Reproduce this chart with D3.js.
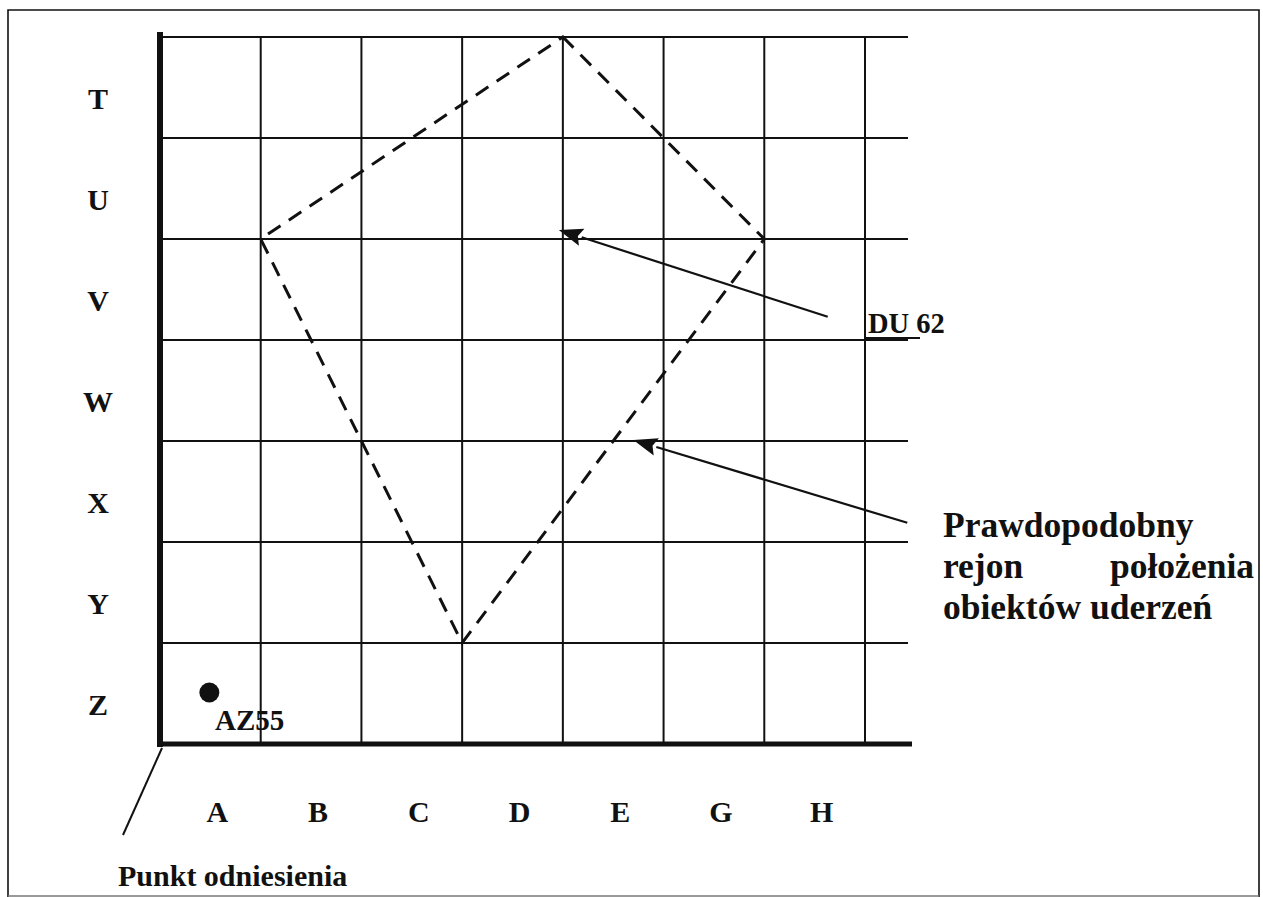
<!DOCTYPE html>
<html><head><meta charset="utf-8">
<script src="https://cdn.jsdelivr.net/npm/d3@7"></script>
<style>
html,body{margin:0;padding:0;background:#fff;}
text{font-family:"Liberation Serif","Times New Roman",serif;font-weight:bold;fill:#111;}
</style></head><body>
<svg id="c" width="1263" height="897"></svg>
<script>
// ---- data ----
const columns = ["A","B","C","D","E","G","H"];
const rows = ["T","U","V","W","X","Y","Z"];
// diamond vertices (grid units: col boundary index, row boundary index)
const regionX = [4, 6, 3, 1];
const regionY = [0, 2, 6, 2];
// arrows: tail -> tip (grid units)
const arrowLabels = ["DU 62", "Prawdopodobny region"];
const arrowTailX = [6.63, 7.42];
const arrowTailY = [2.77, 4.81];
const arrowTipX = [3.96, 4.70];
const arrowTipY = [1.91, 3.99];
// reference object
const pointName = "AZ55";
const pointX = [0.49];
const pointY = [6.49];
const regionText = ["Prawdopodobny", ["rejon", "położenia"], "obiektów uderzeń"];
const refText = "Punkt odniesienia";

const svg = d3.select("#c");
const x = d3.scaleLinear().domain([0, 7]).range([160, 865]);
const y = d3.scaleLinear().domain([0, 7]).range([37, 744]);
const ink = "#111";

// frame
svg.append("path").attr("d","M8,897 L8,10 L1259,10 L1259,897").attr("fill","none").attr("stroke",ink).attr("stroke-width",1.6);
svg.append("line").attr("x1",8).attr("x2",1259).attr("y1",896).attr("y2",896).attr("stroke","#777").attr("stroke-width",1.5);

// grid
const g = svg.append("g");
g.selectAll("line.h").data(d3.range(0,7)).join("line")
  .attr("x1", x(0)).attr("x2", 908).attr("y1", d=>y(d)).attr("y2", d=>y(d))
  .attr("stroke", ink).attr("stroke-width", 2);
g.selectAll("line.v").data(d3.range(1,8)).join("line")
  .attr("x1", d=>x(d)).attr("x2", d=>x(d)).attr("y1", y(0)-1).attr("y2", y(7))
  .attr("stroke", ink).attr("stroke-width", 2);
// thick axes
g.append("line").attr("x1", x(0)).attr("x2", x(0)).attr("y1", y(0)-5).attr("y2", y(7)+3)
  .attr("stroke", ink).attr("stroke-width", 6);
g.append("line").attr("x1", x(0)-3).attr("x2", 912).attr("y1", y(7)).attr("y2", y(7))
  .attr("stroke", ink).attr("stroke-width", 5);

// axis labels
svg.selectAll("text.row").data(rows).join("text")
  .attr("x", 98).attr("y", (d,i)=>y(i+0.5)+21)
  .attr("text-anchor","middle").attr("font-size",30).text(d=>d);
svg.selectAll("text.col").data(columns).join("text")
  .attr("x", (d,i)=>x(i+0.5)+7).attr("y", 822)
  .attr("text-anchor","middle").attr("font-size",30).text(d=>d);

// dashed region
const pts = regionX.map((d,i)=>[x(d), y(regionY[i])]);
svg.append("path").attr("d", d3.line()(pts)+"Z")
  .attr("fill","none").attr("stroke",ink).attr("stroke-width",3)
  .attr("stroke-dasharray","15,10");

// arrows (line + filled head)
arrowLabels.forEach((lab,i)=>{
  const x1 = x(arrowTailX[i]), y1 = y(arrowTailY[i]);
  const x2 = x(arrowTipX[i]), y2 = y(arrowTipY[i]);
  const a = Math.atan2(y2-y1, x2-x1);
  const L = 24, W = 9;
  const bx = x2 - L*Math.cos(a), by = y2 - L*Math.sin(a);
  svg.append("line").attr("x1",x1).attr("y1",y1).attr("x2",bx).attr("y2",by)
    .attr("stroke",ink).attr("stroke-width",2.2);
  const p = [[x2,y2],[bx + W*Math.sin(a), by - W*Math.cos(a)],[bx + 4*Math.cos(a), by + 4*Math.sin(a)],[bx - W*Math.sin(a), by + W*Math.cos(a)]];
  svg.append("path").attr("d", d3.line()(p)+"Z").attr("fill",ink);
});

// DU 62 label
svg.append("text").attr("x",868).attr("y",333).attr("font-size",28.5).text("DU 62");
svg.append("line").attr("x1",865).attr("x2",920).attr("y1",y(3)-2).attr("y2",y(3)-2).attr("stroke",ink).attr("stroke-width",1.8);

// region text
const fs = "35.5px";
const rt = svg.append("g");
rt.append("text").attr("x",943).attr("y",537).style("font-size",fs).text(regionText[0]);
rt.append("text").attr("x",943).attr("y",578).style("font-size",fs).text(regionText[1][0]);
rt.append("text").attr("x",1254).attr("y",578).attr("text-anchor","end").style("font-size",fs).text(regionText[1][1]);
rt.append("text").attr("x",943).attr("y",619).style("font-size",fs).text(regionText[2]);

// point
svg.append("circle").attr("cx",x(pointX[0])).attr("cy",y(pointY[0])).attr("r",10).attr("fill",ink);
svg.append("text").attr("x",215).attr("y",730).attr("font-size",29).text(pointName);

// reference line & label
svg.append("line").attr("x1",x(0)+2).attr("y1",y(7)+4).attr("x2",123).attr("y2",835)
  .attr("stroke",ink).attr("stroke-width",2);
svg.append("text").attr("x",118).attr("y",886).attr("font-size",30).text(refText);
</script>
</body></html>
